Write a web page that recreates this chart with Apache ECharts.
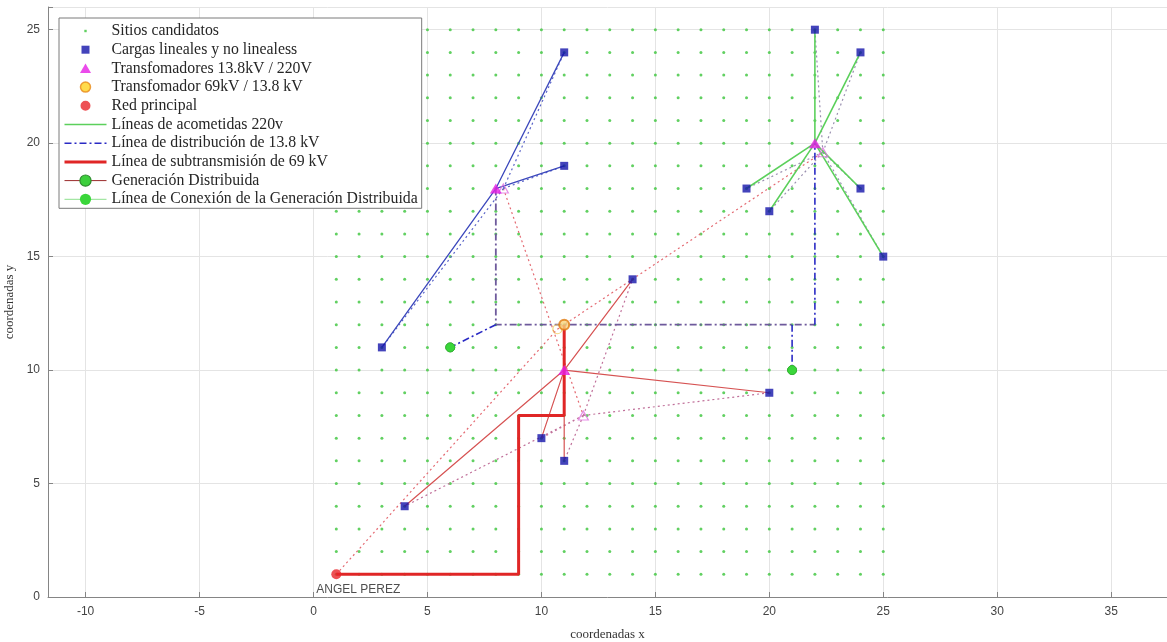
<!DOCTYPE html>
<html><head><meta charset="utf-8">
<script src="https://cdn.jsdelivr.net/npm/echarts@6/dist/echarts.min.js"></script>
<style>html,body{margin:0;padding:0;background:#fff}#c{width:1167px;height:642px}</style>
</head><body><div id="c"></div>
<script>
// ---- data ----
const siteX = [1,2,3,4,5,6,7,8,9,10,11,12,13,14,15,16,17,18,19,20,21,22,23,24,25];
const siteY = [1,2,3,4,5,6,7,8,9,10,11,12,13,14,15,16,17,18,19,20,21,22,23,24,25];
const loads = [[3,11],[11,24],[11,19],[22,25],[24,24],[19,18],[20,17],[24,18],[25,15],[14,14],[10,7],[11,6],[20,9],[4,4]];
const trafos = [[8,18],[22,20],[11,10]];
const trafosInit = [[8.33,18],[22.35,19.6],[11.84,8]];
const substation = [[11,12]];
const substationInit = [[10.7,11.8]];
const mainGrid = [[1,1]];
const mainGridName = ['ANGEL PEREZ'];
const dgPoints = [[6,11],[21,10]];

// polylines
const feedersGreen = [[[22,20],[22,25]],[[22,20],[24,24]],[[22,20],[19,18]],[[22,20],[20,17]],[[22,20],[24,18]],[[22,20],[25,15]]];
const feedersBlue = [[[3,11],[8,18],[11,24]],[[8,18],[11,19]]];
const feedersRed = [[[4,4],[11,10],[14,14]],[[11,10],[10,7]],[[11,10],[11,6]],[[11,10],[20,9]]];
const distPurple = [[[8,18],[8,12],[22,12]]];
const distBlue = [[[22,12],[22,20]],[[21,12],[21,10]],[[8,12],[6,11]]];
const subtrans = [[[1,1],[9,1],[9,8],[11,8],[11,12]]];
const dotA = [[[8.33,18],[3,11]],[[8.33,18],[11,24]],[[8.33,18],[11,19]]];
const dotB = [[[22.35,19.6],[22,25]],[[22.35,19.6],[24,24]],[[22.35,19.6],[19,18]],[[22.35,19.6],[20,17]],[[22.35,19.6],[24,18]],[[22.35,19.6],[25,15]]];
const dotC = [[[11.84,8],[4,4]],[[11.84,8],[10,7]],[[11.84,8],[11,6]],[[11.84,8],[20,9]],[[11.84,8],[14,14]]];
const dotLinks = [[[1,1],[10.7,11.8],[22.35,19.6]],[[8.33,18],[11.84,8]]];

const names = {
  sites:'Sitios candidatos', loads:'Cargas lineales y no linealess', trafo:'Transfomadores 13.8kV / 220V',
  sub:'Transfomador 69kV / 13.8 kV', red:'Red principal', acom:'Líneas de acometidas 220v',
  dist:'Línea de distribución de 13.8 kV', subt:'Línea de subtransmisión de 69 kV',
  dg:'Generación Distribuida', dgl:'Línea de Conexión de la Generación Distribuida'
};

// ---- helpers ----
function joinSegs(list){ const out=[]; list.forEach((s,i)=>{ if(i) out.push(['-','-']); s.forEach(p=>out.push(p)); }); return out; }
const sites = []; siteX.forEach(x=>siteY.forEach(y=>sites.push([x,y])));
function lineSeries(name, segs, color, width, type, z){
  return {type:'line', name:name, data:joinSegs(segs), symbol:'none', showSymbol:false, connectNulls:false,
    lineStyle:{color:color, width:width, type:type||'solid'}, itemStyle:{color:color}, z:z||2, silent:true};
}
const P = s => 'path://M0,0L0,0M14,14L14,14' + s;

const chart = echarts.init(document.getElementById('c'), null, {renderer:'canvas'});
chart.setOption({
  animation:false,
  grid:{left:48, right:0, top:7, bottom:45, containLabel:false, outerBoundsMode:'none'},
  xAxis:{type:'value', min:-11.65, max:37.45, splitNumber:10,
    name:'coordenadas x', nameLocation:'middle', nameGap:31,
    nameTextStyle:{fontFamily:'Liberation Serif', fontSize:13, color:'#333'},
    axisLine:{show:true, onZero:false, lineStyle:{color:'#858585'}},
    axisTick:{show:true, inside:true, length:5, lineStyle:{color:'#858585'}},
    axisLabel:{color:'#444', fontSize:12, fontFamily:'Liberation Sans', margin:9, showMinLabel:false, showMaxLabel:false,
      formatter:v=> (Math.abs(v%5)<1e-6 ? String(Math.round(v)) : '')},
    splitLine:{show:true, lineStyle:{color:'#e4e4e4'}}},
  yAxis:{type:'value', min:0, max:26, interval:5,
    name:'coordenadas y', nameLocation:'middle', nameGap:30, nameRotate:90,
    nameTextStyle:{fontFamily:'Liberation Serif', fontSize:13, color:'#333'},
    axisLine:{show:true, onZero:false, lineStyle:{color:'#858585'}},
    axisTick:{show:true, inside:true, length:5, lineStyle:{color:'#858585'}},
    axisLabel:{color:'#444', fontSize:12, fontFamily:'Liberation Sans', margin:8,
      formatter:v=> (Math.abs(v%5)<1e-6 ? String(Math.round(v)) : '')},
    splitLine:{show:true, lineStyle:{color:'#e4e4e4'}}},
  legend:{orient:'vertical', left:59, top:18, padding:[5,4,1,4], itemWidth:42, itemHeight:14, itemGap:2.7,
    backgroundColor:'#fff', borderColor:'#7a7a7a', borderWidth:1, selectedMode:false,
    textStyle:{fontFamily:'Liberation Serif', fontSize:15.8, color:'#262626', lineHeight:16},
    data:[
      {name:names.sites, icon:P('M5.8,5.8h2.4v2.4h-2.4z')},
      {name:names.loads, icon:P('M3,3h8v8h-8z')},
      {name:names.trafo, icon:P('M7,2L12.5,11.5L1.5,11.5Z')},
      {name:names.sub, icon:P('M7,2A5,5,0,1,1,6.99,2Z'), itemStyle:{color:'#ffd21f', borderColor:'#e8891a', borderWidth:1.5}},
      {name:names.red, icon:P('M7,2A5,5,0,1,1,6.99,2Z')},
      {name:names.acom, itemStyle:{opacity:0}, lineStyle:{width:1.5}},
      {name:names.dist, itemStyle:{opacity:0}, lineStyle:{width:1.5}},
      {name:names.subt, itemStyle:{opacity:0}, lineStyle:{width:3}},
      {name:names.dg, lineStyle:{width:1}, itemStyle:{borderWidth:1.2}},
      {name:names.dgl, lineStyle:{width:1}, itemStyle:{borderWidth:0}}
    ]},
  series:[
    {type:'scatter', name:names.sites, data:sites, symbol:'circle', symbolSize:3, itemStyle:{color:'#45c845', opacity:0.85}, silent:true, z:1},
    lineSeries('dotLinks', dotLinks, '#e46a72', 1.2, [2,3]),
    lineSeries('dotA', dotA, '#5a64c8', 1.2, [2,3]),
    lineSeries('dotB', dotB, '#9a90b0', 1.2, [2,3]),
    lineSeries('dotC', dotC, '#c0709a', 1.2, [2,3]),
    lineSeries('feedBlue', feedersBlue, '#3c48bc', 1.3),
    lineSeries('feedRed', feedersRed, '#d65252', 1.2),
    lineSeries(names.acom, feedersGreen, '#5cd05c', 1.6),
    lineSeries('distPurple', distPurple, '#6e5a9c', 1.8, [7,3,2,3]),
    lineSeries(names.dist, distBlue, '#2a2ac4', 1.6, [7,3,2,3]),
    lineSeries(names.subt, subtrans, '#e02626', 3),
    {type:'scatter', name:'trafoInit', data:trafosInit, symbol:'triangle', symbolSize:[10,9],
      itemStyle:{color:'rgba(0,0,0,0)', borderColor:'#e070e0', borderWidth:1.2}, silent:true},
    {type:'scatter', name:'subInit', data:substationInit, symbol:'circle', symbolSize:9,
      itemStyle:{color:'rgba(0,0,0,0)', borderColor:'#f2cc5a', borderWidth:1.2}, silent:true},
    {type:'line', name:names.dg, data:joinSegs(dgPoints.map(p=>[p])), symbol:'circle', symbolSize:9, showSymbol:true,
      lineStyle:{color:'#9a2a2a', width:1}, itemStyle:{color:'#3ccf3c', borderColor:'#2d8a2d', borderWidth:1}, silent:true},
    {type:'line', name:names.dgl, data:joinSegs(dgPoints.map(p=>[p])), symbol:'circle', symbolSize:9, showSymbol:true,
      lineStyle:{color:'#8ee08e', width:1}, itemStyle:{color:'#3ad63a', borderColor:'#34b834', borderWidth:0.8}, silent:true},
    {type:'scatter', name:names.loads, data:loads, symbol:'rect', symbolSize:8, itemStyle:{color:'#1414aa'}, silent:true},
    {type:'scatter', name:names.trafo, data:trafos, symbol:'triangle', symbolSize:[12,10], itemStyle:{color:'#e61ee6'}, silent:true},
    {type:'scatter', name:names.sub, data:substation, symbol:'circle', symbolSize:10,
      itemStyle:{color:'#f8d27c', borderColor:'#e07b10', borderWidth:2}, silent:true},
    {type:'scatter', name:names.red, data:mainGrid.map((p,i)=>({value:p, label:{formatter:mainGridName[i]}})), symbol:'circle', symbolSize:10,
      itemStyle:{color:'#e8262a'}, silent:true,
      label:{show:true, position:[-15,14], align:'left', verticalAlign:'top', fontFamily:'Liberation Sans', fontSize:12, color:'#222'}}
  ]
});
</script></body></html>
